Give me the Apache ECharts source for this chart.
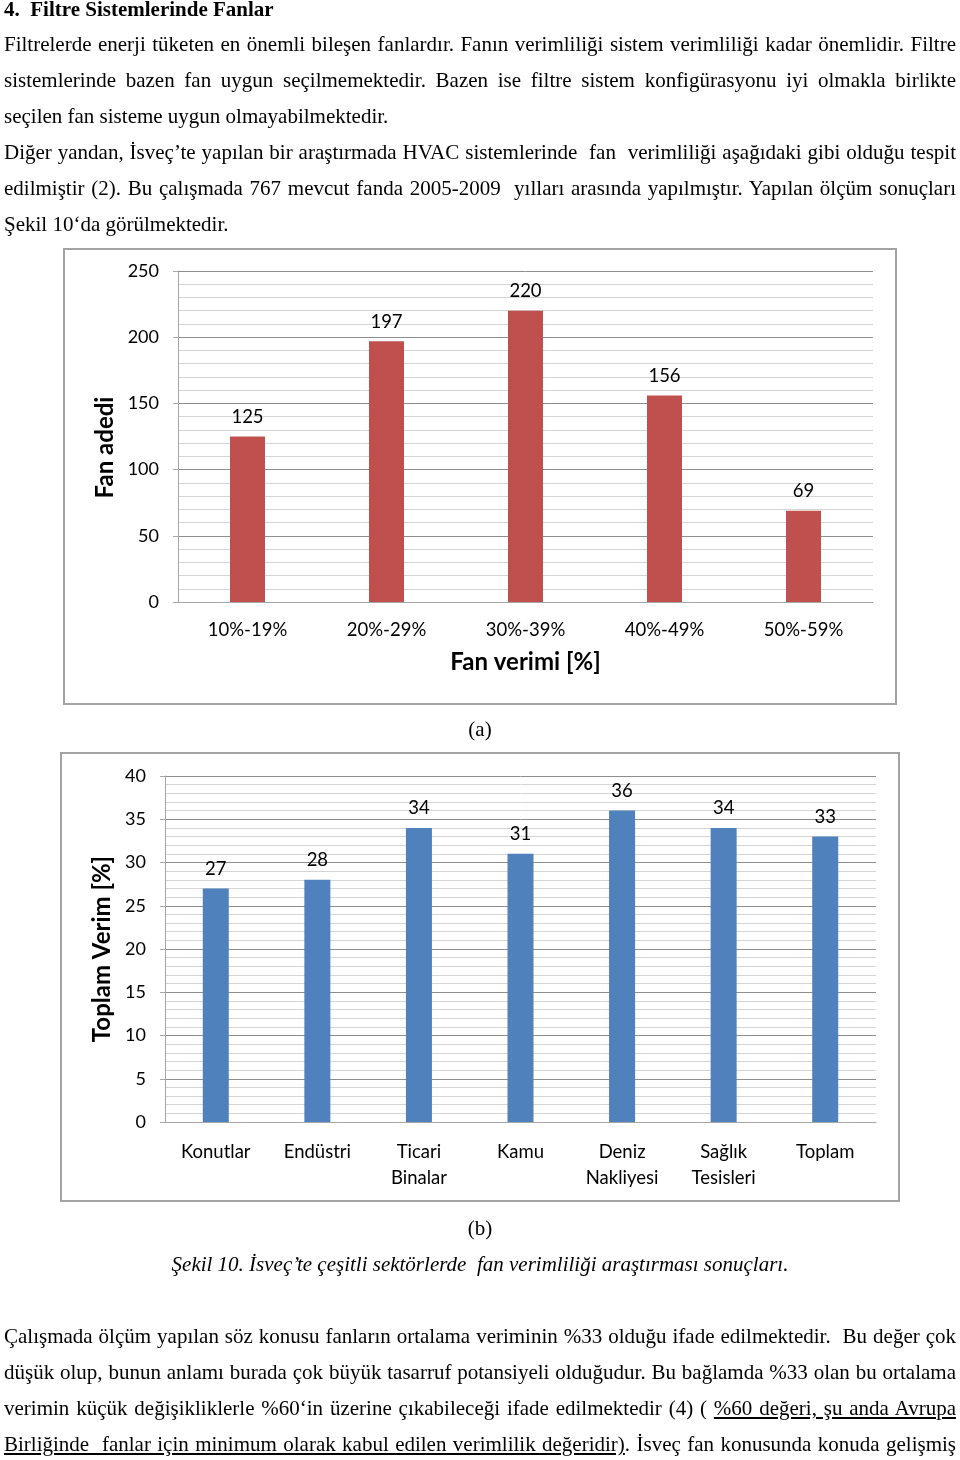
<!DOCTYPE html>
<html>
<head>
<meta charset="utf-8">
<script src="https://cdn.jsdelivr.net/npm/echarts@6/dist/echarts.min.js"></script>
<style>
html,body{margin:0;padding:0;background:#fff;}
body{width:960px;height:1460px;position:relative;overflow:hidden;font-family:"Liberation Serif","Times New Roman",serif;color:#000;}
#chart{position:absolute;left:0;top:0;width:960px;height:1460px;}
.t{position:absolute;left:4px;width:952px;font-size:21px;line-height:24px;white-space:nowrap;text-align:justify;text-align-last:justify;z-index:2;}
.l{text-align-last:left;}
.h{font-weight:bold;text-align-last:left;}
.c{position:absolute;left:0;width:960px;text-align:center;font-size:21px;line-height:24px;z-index:2;}
u{text-decoration:underline;text-underline-offset:2px;}
</style>
</head>
<body>
<div id="chart"></div>
<div class="t h" style="top:-3px">4.&nbsp;&nbsp;Filtre Sistemlerinde Fanlar</div>
<div class="t" style="top:32px">Filtrelerde enerji tüketen en önemli bileşen fanlardır. Fanın verimliliği sistem verimliliği kadar önemlidir. Filtre</div>
<div class="t" style="top:68px">sistemlerinde bazen fan uygun seçilmemektedir. Bazen ise filtre sistem konfigürasyonu iyi olmakla birlikte</div>
<div class="t l" style="top:104px">seçilen fan sisteme uygun olmayabilmektedir.</div>
<div class="t" style="top:140px">Diğer yandan, İsveç’te yapılan bir araştırmada HVAC sistemlerinde&nbsp; fan&nbsp; verimliliği aşağıdaki gibi olduğu tespit</div>
<div class="t" style="top:176px">edilmiştir (2). Bu çalışmada 767 mevcut fanda 2005-2009&nbsp; yılları arasında yapılmıştır. Yapılan ölçüm sonuçları</div>
<div class="t l" style="top:212px">Şekil 10‘da görülmektedir.</div>
<div class="c" style="top:717px">(a)</div>
<div class="c" style="top:1216px">(b)</div>
<div class="c" style="top:1252px;font-style:italic;">Şekil 10. İsveç’te çeşitli sektörlerde&nbsp; fan verimliliği araştırması sonuçları.</div>
<div class="t" style="top:1324px">Çalışmada ölçüm yapılan söz konusu fanların ortalama veriminin %33 olduğu ifade edilmektedir.&nbsp; Bu değer çok</div>
<div class="t" style="top:1360px">düşük olup, bunun anlamı burada çok büyük tasarruf potansiyeli olduğudur. Bu bağlamda %33 olan bu ortalama</div>
<div class="t" style="top:1396px">verimin küçük değişikliklerle %60‘in üzerine çıkabileceği ifade edilmektedir (4) ( <u>%60 değeri, şu anda Avrupa</u></div>
<div class="t" style="top:1432px"><u>Birliğinde&nbsp; fanlar için minimum olarak kabul edilen verimlilik değeridir)</u>. İsveç fan konusunda konuda gelişmiş</div>
<script>
// Chart (a)
const catsA = ['10%-19%', '20%-29%', '30%-39%', '40%-49%', '50%-59%'];
const valsA = [125, 197, 220, 156, 69];
const yTicksA = { min: 0, max: 250, interval: 50 };
// Chart (b)
const catsB = ['Konutlar', 'Endüstri', 'Ticari\nBinalar', 'Kamu', 'Deniz\nNakliyesi', 'Sağlık\nTesisleri', 'Toplam'];
const valsB = [27, 28, 34, 31, 36, 34, 33];
const yTicksB = { min: 0, max: 40, interval: 5 };

const FONT = 'Lato, "Open Sans", sans-serif';
const chart = echarts.init(document.getElementById('chart'));

function yAxisCfg(idx, t, name, gap, pad) {
  return {
    type: 'value', gridIndex: idx, min: t.min, max: t.max, interval: t.interval,
    name: name, nameLocation: 'middle', nameGap: gap,
    nameTextStyle: { fontFamily: FONT, fontSize: 24, fontWeight: 'bold', color: '#000', padding: pad },
    axisLine: { show: true, lineStyle: { color: '#a6a6a6', width: 1 } },
    axisTick: { show: true, length: 5, lineStyle: { color: '#a6a6a6' } },
    axisLabel: { fontFamily: FONT, fontSize: 18, color: '#000', margin: 19 },
    splitLine: { show: true, lineStyle: { color: '#8e8e8e', width: 1 } },
    minorTick: { show: false, splitNumber: 5 },
    minorSplitLine: { show: true, lineStyle: { color: '#d4d4d4', width: 1 } }
  };
}
function xAxisCfg(idx, cats, name, gap, lh) {
  return {
    type: 'category', gridIndex: idx, data: cats,
    name: name, nameLocation: 'middle', nameGap: gap,
    nameTextStyle: { fontFamily: FONT, fontSize: 24, fontWeight: 'bold', color: '#000' },
    axisLine: { show: true, lineStyle: { color: '#a6a6a6', width: 1 } },
    axisTick: { show: false },
    axisLabel: { fontFamily: FONT, fontSize: 18.5, color: '#000', margin: 17, lineHeight: lh, interval: 0 }
  };
}
function labelCfg() {
  return { show: true, position: 'top', distance: 10, fontFamily: FONT, fontSize: 18.5, color: '#000' };
}

chart.setOption({
  animation: false,
  graphic: [
    { type: 'rect', shape: { x: 64, y: 249, width: 832, height: 455 }, style: { fill: 'none', stroke: '#a3a3a3', lineWidth: 2 }, z: 0 },
    { type: 'rect', shape: { x: 61, y: 753, width: 838, height: 448 }, style: { fill: 'none', stroke: '#a3a3a3', lineWidth: 2 }, z: 0 }
  ],
  grid: [
    { left: 178, top: 271, width: 695, height: 331 },
    { left: 165, top: 776, width: 711, height: 346 }
  ],
  xAxis: [
    xAxisCfg(0, catsA, 'Fan verimi [%]', 48, 22),
    xAxisCfg(1, catsB, '', 30, 26)
  ],
  yAxis: [
    yAxisCfg(0, yTicksA, 'Fan adedi', 57, [0, 22, 0, 0]),
    yAxisCfg(1, yTicksB, 'Toplam Verim [%]', 46, [0, 0, 0, 0])
  ],
  series: [
    { type: 'bar', xAxisIndex: 0, yAxisIndex: 0, data: valsA, barWidth: 35, itemStyle: { color: '#c0504d' }, label: labelCfg() },
    { type: 'bar', xAxisIndex: 1, yAxisIndex: 1, data: valsB, barWidth: 26, itemStyle: { color: '#4f81bd' }, label: labelCfg() }
  ]
});
</script>
</body>
</html>
